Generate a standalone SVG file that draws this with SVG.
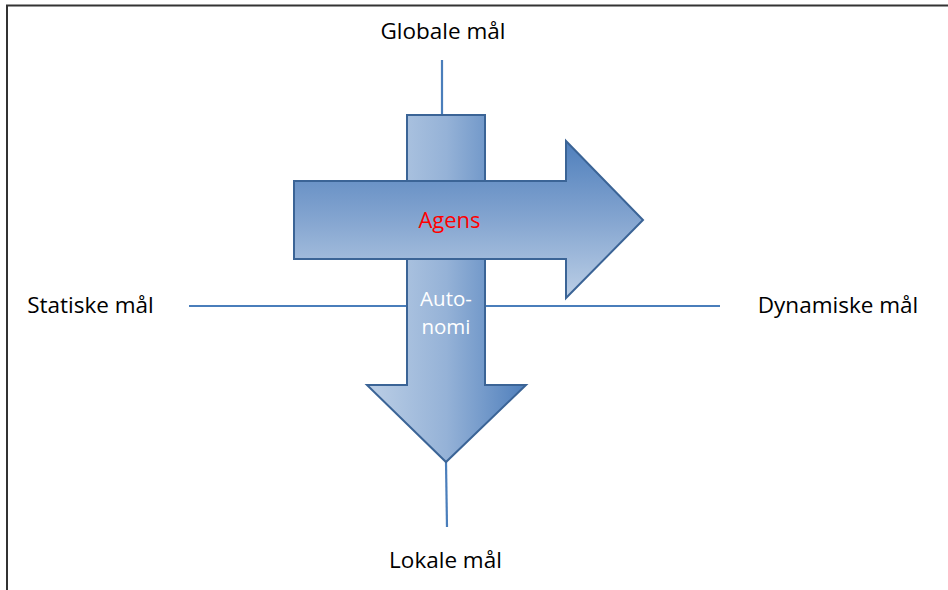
<svg xmlns="http://www.w3.org/2000/svg" width="948" height="590" viewBox="0 0 948 590">
<defs>
<linearGradient id="gDown" x1="0" y1="0" x2="1" y2="0">
<stop offset="0" stop-color="#bccfe6"/>
<stop offset="0.5" stop-color="#95b2d7"/>
<stop offset="1" stop-color="#4f7fbc"/>
</linearGradient>
<linearGradient id="gRight" x1="0" y1="0" x2="0" y2="1">
<stop offset="0" stop-color="#4f7fbc"/>
<stop offset="0.5" stop-color="#84a5d0"/>
<stop offset="1" stop-color="#bccfe6"/>
</linearGradient>
<style>
.lbl{font-family:"Open Sans","Liberation Sans",sans-serif;font-size:22.5px;fill:#000}
.axis{stroke:#4a7ebb;stroke-width:2.2;fill:none}
.arrow{stroke:#3b6496;stroke-width:2;stroke-linejoin:miter}
.frame{stroke:#333;stroke-width:2;fill:none}
</style>
</defs>
<g id="frame">
<path class="frame" d="M7,590 V5.5 H948"/>
</g>
<g id="connectors">
<line class="axis" x1="442" y1="60" x2="442" y2="115"/>
<line class="axis" x1="189" y1="306" x2="720" y2="306"/>
<line class="axis" x1="446" y1="462" x2="447" y2="527"/>
</g>
<g id="autonomi">
<path class="arrow" fill="url(#gDown)" d="M407,115 H485 V385 H526 L446,462 L367,385 H407 Z"/>
<text x="446" y="305.5" text-anchor="middle" font-family="Open Sans, Liberation Sans, sans-serif" font-size="20.5" fill="#ffffff">Auto-</text>
<text x="446" y="333.5" text-anchor="middle" font-family="Open Sans, Liberation Sans, sans-serif" font-size="20.5" fill="#ffffff">nomi</text>
</g>
<g id="agens">
<path class="arrow" fill="url(#gRight)" d="M294,181 H566 V141 L643,220 L566,298 V259 H294 Z"/>
<text x="449.5" y="228" text-anchor="middle" font-family="Open Sans, Liberation Sans, sans-serif" font-size="22" fill="#ff0000">Agens</text>
</g>
<g id="globale">
<text class="lbl" x="443" y="39" text-anchor="middle">Globale mål</text>
</g>
<g id="statiske">
<text class="lbl" x="90.5" y="313" text-anchor="middle">Statiske mål</text>
</g>
<g id="dynamiske">
<text class="lbl" x="838" y="313" text-anchor="middle">Dynamiske mål</text>
</g>
<g id="lokale">
<text class="lbl" x="445.5" y="568" text-anchor="middle">Lokale mål</text>
</g>
</svg>
